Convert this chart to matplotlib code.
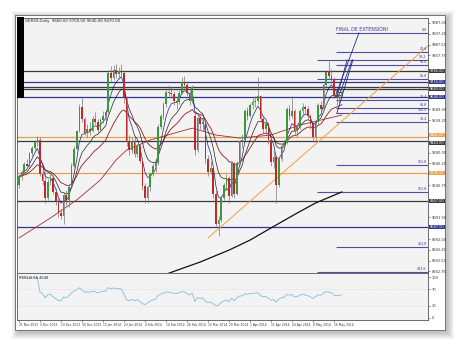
import numpy as np
import pandas as pd
import matplotlib
matplotlib.use('Agg')
import matplotlib.pyplot as plt
from matplotlib.patches import Rectangle
from matplotlib.transforms import blended_transform_factory

W, H = 460, 344

# daily candles, 21 Nov 2013 .. 21 May 2014
opens = [9240, 9280, 9300, 9338, 9330, 9390, 9410, 9440, 9450, 9290,
         9260, 9180, 9255, 9275, 9210, 9165, 9110, 9100, 9195, 9170,
         9230, 9330, 9405, 9490, 9600, 9545, 9480, 9500, 9490, 9545,
         9530, 9495, 9540, 9560, 9575, 9755, 9735, 9770, 9750, 9765,
         9755, 9640, 9440, 9400, 9445, 9385, 9420, 9350, 9235, 9180,
         9230, 9290, 9330, 9340, 9510, 9560, 9615, 9670, 9665, 9660,
         9630, 9625, 9665, 9715, 9700, 9665, 9630, 9560, 9400, 9550,
         9520, 9530, 9360, 9300, 9320, 9200, 9060, 9080, 9180, 9240,
         9275, 9190, 9340, 9200, 9340, 9445, 9450, 9580, 9560, 9610,
         9625, 9630, 9650, 9545, 9500, 9520, 9450, 9345, 9370, 9240,
         9360, 9420, 9435, 9590, 9560, 9580, 9490, 9510, 9580, 9600,
         9590, 9560, 9520, 9460, 9530, 9610, 9590, 9700, 9760, 9745,
         9730, 9655, 9640, 9660]
highs = [9290, 9310, 9345, 9360, 9395, 9420, 9450, 9465, 9460, 9310,
         9300, 9270, 9290, 9285, 9225, 9180, 9130, 9210, 9220, 9240,
         9340, 9420, 9495, 9615, 9640, 9555, 9520, 9530, 9560, 9575,
         9545, 9550, 9580, 9590, 9770, 9790, 9795, 9800, 9785, 9800,
         9765, 9650, 9470, 9460, 9460, 9430, 9430, 9365, 9250, 9240,
         9300, 9340, 9350, 9520, 9570, 9625, 9680, 9700, 9690, 9675,
         9650, 9680, 9740, 9745, 9720, 9680, 9700, 9575, 9560, 9565,
         9560, 9535, 9380, 9350, 9330, 9220, 9100, 9190, 9250, 9290,
         9280, 9350, 9345, 9350, 9450, 9475, 9590, 9600, 9620, 9640,
         9650, 9740, 9655, 9560, 9540, 9530, 9455, 9400, 9380, 9370,
         9430, 9450, 9600, 9610, 9650, 9590, 9520, 9590, 9620, 9610,
         9605, 9570, 9530, 9540, 9620, 9630, 9710, 9770, 9810, 9775,
         9740, 9680, 9670, 9700]
lows = [9225, 9262, 9290, 9320, 9325, 9375, 9400, 9420, 9280, 9240,
        9160, 9170, 9240, 9200, 9150, 9095, 9085, 9060, 9150, 9140,
        9225, 9320, 9400, 9485, 9530, 9470, 9460, 9470, 9485, 9520,
        9480, 9490, 9525, 9530, 9570, 9720, 9725, 9735, 9730, 9740,
        9620, 9420, 9380, 9390, 9370, 9370, 9340, 9220, 9160, 9160,
        9215, 9280, 9300, 9335, 9500, 9545, 9600, 9650, 9640, 9610,
        9590, 9615, 9660, 9680, 9650, 9610, 9620, 9380, 9395, 9500,
        9490, 9340, 9280, 9290, 9180, 9050, 9005, 9070, 9170, 9220,
        9160, 9185, 9180, 9195, 9335, 9410, 9445, 9540, 9555, 9590,
        9600, 9615, 9530, 9480, 9470, 9430, 9330, 9320, 9160, 9230,
        9350, 9410, 9430, 9540, 9550, 9470, 9460, 9500, 9560, 9570,
        9540, 9500, 9440, 9440, 9520, 9570, 9585, 9690, 9730, 9710,
        9640, 9610, 9620, 9640]
closes = [9280, 9300, 9338, 9330, 9390, 9410, 9440, 9452, 9290, 9260,
          9180, 9255, 9275, 9210, 9165, 9110, 9100, 9195, 9170, 9230,
          9330, 9405, 9490, 9600, 9545, 9480, 9500, 9490, 9545, 9530,
          9495, 9540, 9560, 9575, 9755, 9735, 9770, 9750, 9765, 9755,
          9640, 9440, 9400, 9445, 9385, 9420, 9350, 9235, 9180, 9230,
          9290, 9330, 9340, 9510, 9560, 9615, 9670, 9665, 9660, 9630,
          9625, 9665, 9715, 9700, 9665, 9630, 9690, 9400, 9550, 9520,
          9530, 9360, 9300, 9320, 9200, 9060, 9080, 9180, 9240, 9275,
          9190, 9340, 9200, 9340, 9445, 9450, 9580, 9560, 9610, 9625,
          9630, 9650, 9545, 9500, 9520, 9450, 9345, 9370, 9240, 9360,
          9420, 9435, 9590, 9560, 9580, 9490, 9510, 9580, 9600, 9590,
          9560, 9520, 9460, 9530, 9610, 9590, 9700, 9760, 9745, 9730,
          9655, 9640, 9660, 9670]

date_labels = ["21 Nov 2013", "3 Dec 2013", "13 Dec 2013", "30 Dec 2013",
               "13 Jan 2014", "23 Jan 2014", "4 Feb 2014", "14 Feb 2014",
               "26 Feb 2014", "10 Mar 2014", "20 Mar 2014", "1 Apr 2014",
               "11 Apr 2014", "24 Apr 2014", "6 May 2014", "16 May 2014"]

# full width support / resistance lines
level_price = [9766, 9715, 9694, 9683, 9646, 9462, 9443, 9296, 9167, 9047]
level_color = ['#3a3a3a', '#34348c', '#3a3a3a', '#3a3a3a', '#34348c',
               '#e8a050', '#3a3a3a', '#e8a050', '#3a3a3a', '#34348c']
level_tag = [True, True, False, True, True, True, True, True, True, True]

# fibonacci expansion levels (start bar, price, text)
fib_start = [120.8, 120.8, 113.5, 120.8, 113.5, 120.8, 120.8, 120.8, 120.8, 120.8, 113.5, 120.8, 113.5]
fib_price = [9941, 9853, 9817, 9795, 9729, 9632, 9595, 9572, 9531, 9333, 9209, 8955, 8840]
fib_text = ["0.0", "23.6", "38.2", "50.0", "61.8", "76.4", "61.8", "100.0",
            "76.4", "161.8", "161.8", "261.8", "423.6"]

# long moving averages
sma200_bar = [56, 69, 80, 88, 96, 106, 113, 123]
sma200_val = [8830, 8886, 8941, 8987, 9043, 9112, 9158, 9209]
slow_bar = [0, 12, 22, 31, 37, 41, 50, 66, 75, 84, 96, 107, 123]
slow_val = [8997, 9089, 9172, 9264, 9356, 9402, 9448, 9503, 9471, 9457, 9471, 9517, 9563]

# drawn objects
orange_trend = [(72, 8997), (155.8, 9881)]
navy_lines = [[(120.4, 9646), (129.5, 9941)],
              [(121.1, 9646), (125.0, 9817)],
              [(121.1, 9572), (127.2, 9817)],
              [(122.3, 9665), (126.9, 9817)]]

df = pd.DataFrame({'o': opens, 'h': highs, 'l': lows, 'c': closes})
n = len(df)
x = np.arange(n)

ema_fast = df['c'].ewm(span=5, adjust=False).mean()
ema_mid = df['c'].ewm(span=10, adjust=False).mean()
ema_red = df['c'].ewm(span=21, adjust=False).mean()

delta = df['c'].diff()
gain = delta.clip(lower=0).ewm(alpha=1 / 14, adjust=False).mean()
loss = (-delta.clip(upper=0)).ewm(alpha=1 / 14, adjust=False).mean()
rsi = 100 - 100 / (1 + gain / loss)


def fx(px):
    return px / W


def fy(py):
    return 1 - py / H


fig = plt.figure(figsize=(W / 100, H / 100), dpi=100)
fig.patch.set_facecolor('white')

# window shadow + frame
for k in range(7):
    fig.add_artist(Rectangle((fx(15 - k + 3), fy(330 + k + 3)), (430 + 2 * k) / W, (316 + 2 * k) / H,
                             transform=fig.transFigure, fc='#000000', ec='none', alpha=0.035, zorder=-3))
fig.add_artist(Rectangle((fx(15), fy(330)), 430 / W, 315 / H, transform=fig.transFigure,
                         fc='white', ec='#606060', lw=0.6, zorder=-2))

ax = fig.add_axes([fx(17), fy(273), (428 - 17) / W, (273 - 18) / H])
ax2 = fig.add_axes([fx(17), fy(320), (428 - 17) / W, (320 - 273) / H], sharex=ax)
for a in (ax, ax2):
    a.set_facecolor('#f3f3f3')
    for s in a.spines.values():
        s.set_color('#555555')
        s.set_linewidth(0.6)

xmin, xmax = -0.76, 155.8
ymin, ymax = 8835.5, 10010
ax.set_xlim(xmin, xmax)
ax.set_ylim(ymin, ymax)
px_per_price = 255 / (ymax - ymin)

# levels
trans = blended_transform_factory(ax.transAxes, ax.transData)
for p, col, tag in zip(level_price, level_color, level_tag):
    ax.axhline(p, color=col, lw=0.9, zorder=1)
    if tag:
        va = 'bottom' if col == '#e8a050' and p > 9450 else ('top' if p == 9443 else 'center')
        ax.text(1.004, p, f'{p:.2f}', transform=trans, fontsize=2.5, color='white', va=va, ha='left',
                bbox=dict(boxstyle='square,pad=0.08', fc=col, ec='none'), clip_on=False)

for s, p, t in zip(fib_start, fib_price, fib_text):
    ax.hlines(p, s, xmax, color='#50509a', lw=0.8, zorder=1)
    ax.text(155.3, p + 3, t, fontsize=2.3, color='#30309a', ha='right', va='bottom')

ax.plot(sma200_bar, sma200_val, color='#111111', lw=0.9, zorder=2)
ax.plot(slow_bar, slow_val, color='#a03030', lw=0.6, zorder=2)
ax.plot(x, ema_red, color='#8b1c1c', lw=0.6, zorder=2)
ax.plot(x, ema_mid, color='#222222', lw=0.5, zorder=2)
ax.plot(x, ema_fast, color='#22227a', lw=0.5, zorder=2)

(x0, y0), (x1, y1) = orange_trend
ax.plot([x0, x1], [y0, y1], color='#f0a040', lw=0.7, zorder=2)
for seg in navy_lines:
    ax.plot([seg[0][0], seg[1][0]], [seg[0][1], seg[1][1]], color='#2a2a8a', lw=0.6, zorder=4)

# candles
up = df['c'] >= df['o']
ax.vlines(x, df['l'], df['h'], color='#777777', lw=0.5, zorder=3)
body_lo = np.minimum(df['o'], df['c'])
body_h = np.maximum(np.abs(df['c'] - df['o']), 3)
ax.bar(x, body_h, bottom=body_lo, width=0.62, color=np.where(up, '#3a9a3a', '#c0282a'), lw=0, zorder=3)

ax.text(120.8, 9955, 'FINAL DE EXTENSIÓN!', fontsize=3.4, color='#3a3a9a', va='center', ha='left')

# price scale, ticks hidden where a level tag sits
tagged = [p for p, t in zip(level_price, level_tag) if t]
price_ticks = [v for v in np.arange(9987.0, 8836, -49.75)
               if min(abs(v - p) for p in tagged) * px_per_price > 6]
ax.yaxis.tick_right()
ax.set_yticks(price_ticks)
ax.set_yticklabels([f'{v:.2f}' for v in price_ticks])
ax.tick_params(axis='y', labelsize=2.6, length=1.5, width=0.4, pad=1, colors='#333333')
ax.tick_params(axis='x', bottom=False, labelbottom=False)

last = df.iloc[-1]
fig.text(fx(25), fy(21), f"GER30,Daily  {last['o']:.2f} {last['h']:.2f} {last['l']:.2f} {last['c']:.2f}",
         fontsize=2.8, va='center', color='#222222')
fig.add_artist(Rectangle((fx(17), fy(98)), 7 / W, 81 / H, transform=fig.transFigure, fc='black', ec='none', zorder=5))

# RSI panel
ax2.set_ylim(-4.9, 109.8)
ax2.plot(x, rsi, color='#86bcd6', lw=0.6)
for lv in (70, 30):
    ax2.axhline(lv, color='#c8c8c8', lw=0.4, ls=':')
ax2.yaxis.tick_right()
ax2.set_yticks([100, 70, 30, 0])
ax2.tick_params(axis='y', labelsize=2.6, length=1.5, width=0.4, pad=1, colors='#333333')
ax2.set_xticks(np.arange(0, 8 * len(date_labels), 8))
ax2.set_xticklabels(date_labels, ha='left')
ax2.tick_params(axis='x', labelsize=2.2, length=1.5, width=0.4, pad=1, colors='#333333')
ax2.text(0.005, 0.93, f'RSI(14) {rsi.iloc[-1]:.4f}', transform=ax2.transAxes, fontsize=2.6, va='top', color='#222222')

fig.savefig('out.png', dpi=100)
